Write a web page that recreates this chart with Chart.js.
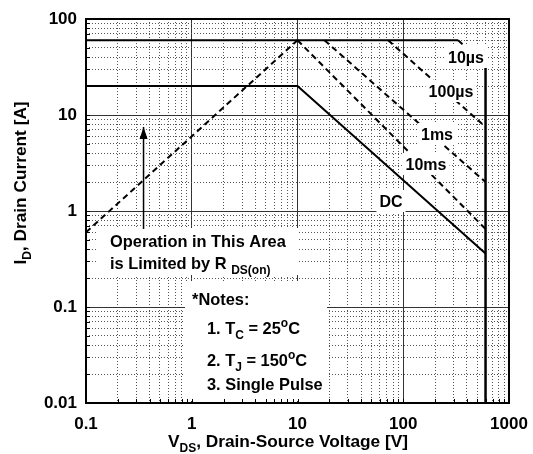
<!DOCTYPE html>
<html>
<head>
<meta charset="utf-8">
<script src="https://cdn.jsdelivr.net/npm/chart.js@4.4.1/dist/chart.umd.min.js"></script>
<style>
  html, body { margin: 0; padding: 0; background: #fff; }
  #wrap { width: 533px; height: 454px; }
</style>
</head>
<body>
<div id="wrap"><canvas id="soa" width="533" height="454"></canvas></div>
<script>
"use strict";

const FONT = "'Liberation Sans', Arial, sans-serif";

// tick labels
const xTickLabels = ["0.1", "1", "10", "100", "1000"];
const yTickLabels = ["0.01", "0.1", "1", "10", "100"];

// curves: drain-source voltage [V] / drain current [A]
const rdsVolts = [0.1, 10];
const rdsAmps = [0.6, 60];
const idmVolts = [0.1, 330];
const idmAmps = [60, 60];
const us10Volts = [330, 600];
const us10Amps = [60, 33];
const us100Volts = [72, 600];
const us100Amps = [60, 7.5];
const ms1Volts = [18, 600];
const ms1Amps = [60, 2.0];
const ms10Volts = [10, 600];
const ms10Amps = [60, 0.65];
const dcVolts = [0.1, 10, 600];
const dcAmps = [20, 20, 0.36];
const bvVolts = [600, 600];
const bvAmps = [33, 0.01];
const arrowVolts = [0.35, 0.35];
const arrowAmps = [0.65, 7.5];

function pts(xs, ys) {
  return xs.map((x, i) => ({ x, y: ys[i] }));
}

function gridValues(labels) {
  const out = [];
  labels.forEach((lab, i) => {
    const base = Number(lab);
    if (i === labels.length - 1) {
      out.push(base);
      return;
    }
    for (let m = 1; m <= 9; m++) out.push(+(base * m).toPrecision(3));
  });
  return out;
}

const xGrid = gridValues(xTickLabels);
const yGrid = gridValues(yTickLabels);

function isMajor(value, labels) {
  return labels.some((lab) => Math.abs(Number(lab) - value) / value < 1e-6);
}

function labelFor(value, labels) {
  const hit = labels.find((lab) => Math.abs(Number(lab) - value) / value < 1e-6);
  return hit || "";
}

// text with sub/superscripts: parts = [[text, "n"|"sub"|"sup"], ...]
function drawRich(ctx, parts, x, y, size, align) {
  const small = Math.round(size * 0.72);
  const widths = parts.map(([t, k]) => {
    ctx.font = `bold ${k === "n" ? size : small}px ${FONT}`;
    return ctx.measureText(t).width;
  });
  const total = widths.reduce((a, b) => a + b, 0);
  let cx = align === "center" ? x - total / 2 : x;
  ctx.textAlign = "left";
  ctx.textBaseline = "alphabetic";
  parts.forEach(([t, k], i) => {
    ctx.font = `bold ${k === "n" ? size : small}px ${FONT}`;
    const dy = k === "sub" ? size * 0.3 : k === "sup" ? -size * 0.42 : 0;
    ctx.fillText(t, cx, y + dy);
    cx += widths[i];
  });
  return total;
}

const curveLabels = [
  { text: "10\u00b5s", cx: 466, cy: 57 },
  { text: "100\u00b5s", cx: 451, cy: 91 },
  { text: "1ms", cx: 437, cy: 134 },
  { text: "10ms", cx: 426, cy: 164 },
  { text: "DC", cx: 391, cy: 201 }
];

const soaDecor = {
  id: "soaDecor",
  beforeDatasetsDraw(chart) {
    const { ctx } = chart;
    ctx.save();
    ctx.fillStyle = "#fff";
    ctx.fillRect(98, 228, 200, 47);
    ctx.fillRect(185, 281, 142, 120);
    ctx.fillStyle = "#000";
    drawRich(ctx, [["Operation in This Area", "n"]], 110, 247, 16.4, "left");
    drawRich(ctx, [["is Limited by R ", "n"], ["DS(on)", "sub"]], 110, 269, 16.4, "left");
    drawRich(ctx, [["*Notes:", "n"]], 192, 305, 16.4, "left");
    drawRich(ctx, [["1. T", "n"], ["C", "sub"], [" = 25", "n"], ["o", "sup"], ["C", "n"]], 207, 334, 16.4, "left");
    drawRich(ctx, [["2. T", "n"], ["J", "sub"], [" = 150", "n"], ["o", "sup"], ["C", "n"]], 207, 366, 16.4, "left");
    drawRich(ctx, [["3. Single Pulse", "n"]], 207, 390, 16.4, "left");
    ctx.restore();
  },
  afterDatasetsDraw(chart) {
    const { ctx, scales } = chart;
    const ax = scales.x.getPixelForValue(arrowVolts[1]);
    const ay = scales.y.getPixelForValue(arrowAmps[1]);
    ctx.save();
    ctx.fillStyle = "#000";
    ctx.beginPath();
    ctx.moveTo(ax, ay);
    ctx.lineTo(ax - 4, ay + 12);
    ctx.lineTo(ax + 4, ay + 12);
    ctx.closePath();
    ctx.fill();

    ctx.font = `bold 16px ${FONT}`;
    curveLabels.forEach((lab) => {
      const w = ctx.measureText(lab.text).width;
      ctx.fillStyle = "#fff";
      ctx.fillRect(lab.cx - w / 2 - 3, lab.cy - 11, w + 6, 22);
      ctx.fillStyle = "#000";
      ctx.textAlign = "center";
      ctx.textBaseline = "alphabetic";
      ctx.fillText(lab.text, lab.cx, lab.cy + 6);
    });
    ctx.restore();
  },
  afterDraw(chart) {
    const { ctx, chartArea: a, scales } = chart;
    ctx.save();
    // short inward ticks on the bottom and left axes
    ctx.strokeStyle = "#000";
    ctx.lineWidth = 1;
    ctx.beginPath();
    xGrid.forEach((v) => {
      const px = Math.round(scales.x.getPixelForValue(v)) + 0.5;
      ctx.moveTo(px, a.bottom);
      ctx.lineTo(px, a.bottom - 4);
    });
    yGrid.forEach((v) => {
      const py = Math.round(scales.y.getPixelForValue(v)) + 0.5;
      ctx.moveTo(a.left, py);
      ctx.lineTo(a.left + 4, py);
    });
    ctx.stroke();

    ctx.lineWidth = 2;
    ctx.strokeRect(a.left, a.top, a.right - a.left, a.bottom - a.top);

    ctx.fillStyle = "#000";
    drawRich(ctx, [["V", "n"], ["DS", "sub"], [", Drain-Source Voltage [V]", "n"]], 288, 447, 17.3, "center");

    ctx.translate(26, 183);
    ctx.rotate(-Math.PI / 2);
    drawRich(ctx, [["I", "n"], ["D", "sub"], [", Drain Current [A]", "n"]], 0, 0, 17.3, "center");
    ctx.restore();
  }
};

function lineSet(data, dashed, width) {
  return {
    data,
    borderColor: "#000",
    borderWidth: width || 2,
    borderDash: dashed ? [6, 4] : [],
    pointRadius: 0,
    fill: false,
    tension: 0
  };
}

function axis(min, max, values, labels) {
  return {
    type: "logarithmic",
    min,
    max,
    afterBuildTicks: (scale) => {
      scale.ticks = values.map((v) => ({ value: v, major: isMajor(v, labels) }));
    },
    ticks: {
      autoSkip: false,
      maxRotation: 0,
      minRotation: 0,
      color: "#000",
      font: { family: FONT, size: 17, weight: "bold" },
      callback: (value) => labelFor(value, labels)
    },
    grid: {
      drawTicks: false,
      lineWidth: 1,
      color: (ctx) => (ctx.tick && isMajor(ctx.tick.value, labels) ? "#333" : "#555")
    },
    border: {
      display: false,
      dash: (ctx) => (ctx.tick && !isMajor(ctx.tick.value, labels) ? [1, 2] : [])
    }
  };
}

window.addEventListener("DOMContentLoaded", () => {
  const xAxis = axis(0.1, 1000, xGrid, xTickLabels);
  xAxis.ticks.padding = 11;
  xAxis.afterFit = (scale) => {
    scale.height = 51;
    scale.paddingLeft = 0;
    scale.paddingRight = 0;
  };
  const yAxis = axis(0.01, 100, yGrid, yTickLabels);
  yAxis.ticks.padding = 9;
  yAxis.afterFit = (scale) => {
    scale.width = 86;
    scale.paddingTop = 0;
    scale.paddingBottom = 0;
  };

  new Chart(document.getElementById("soa"), {
    type: "line",
    data: {
      datasets: [
        lineSet(pts(rdsVolts, rdsAmps), true),
        lineSet(pts(idmVolts, idmAmps), false),
        lineSet(pts(us10Volts, us10Amps), true),
        lineSet(pts(us100Volts, us100Amps), true),
        lineSet(pts(ms1Volts, ms1Amps), true),
        lineSet(pts(ms10Volts, ms10Amps), true),
        lineSet(pts(dcVolts, dcAmps), false),
        lineSet(pts(bvVolts, bvAmps), false, 2.5),
        lineSet(pts(arrowVolts, arrowAmps), false, 1.5)
      ]
    },
    options: {
      responsive: false,
      animation: false,
      devicePixelRatio: 1,
      layout: { padding: { left: 0, top: 19, right: 24, bottom: 0 } },
      plugins: { legend: { display: false }, tooltip: { enabled: false } },
      scales: { x: xAxis, y: yAxis }
    },
    plugins: [soaDecor]
  });
});
</script>
</body>
</html>
